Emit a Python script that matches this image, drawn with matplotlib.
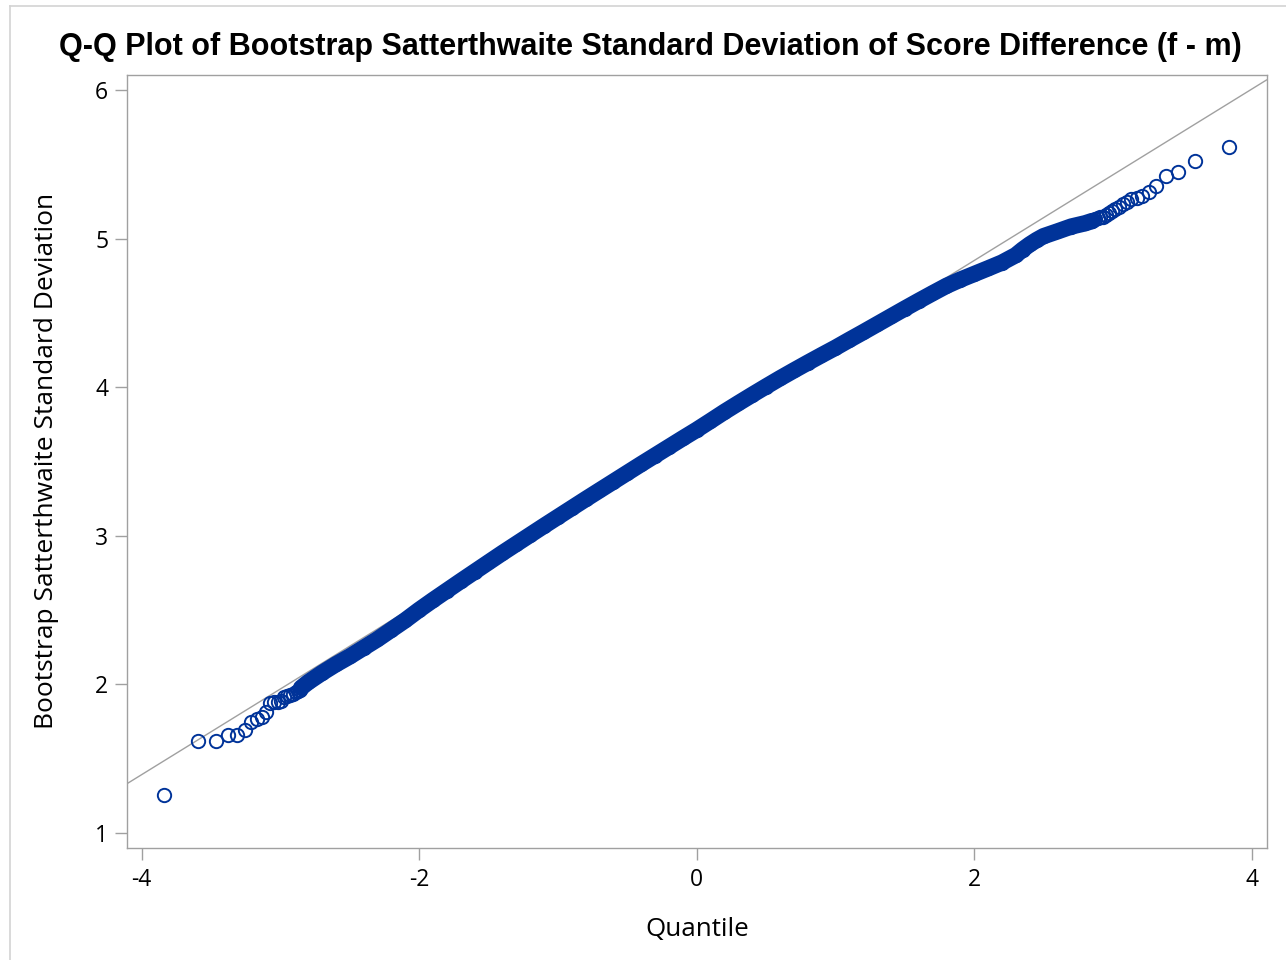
import matplotlib
matplotlib.use("Agg")
import matplotlib.pyplot as plt
from matplotlib.lines import Line2D

# ---------------- data ----------------
# lower tail: normal quantile, bootstrap SD
lower_q = [-3.835, -3.594, -3.466, -3.380, -3.313, -3.258, -3.210, -3.171, -3.134,
           -3.101, -3.071, -3.044, -3.018, -2.994, -2.971, -2.949, -2.929, -2.909,
           -2.890, -2.872, -2.855]
lower_v = [1.254, 1.615, 1.615, 1.656, 1.656, 1.689, 1.743, 1.766, 1.780,
           1.810, 1.874, 1.878, 1.880, 1.885, 1.914, 1.920, 1.928, 1.936,
           1.944, 1.952, 1.960]

# dense central body
body_q = [-2.85, -2.8, -2.7, -2.6, -2.5, -2.4, -2.3, -2.2, -2.1, -2.0,
          -1.9, -1.8, -1.7, -1.6, -1.5, -1.4, -1.3, -1.2, -1.1, -1.0,
          -0.9, -0.8, -0.7, -0.6, -0.5, -0.4, -0.3, -0.2, -0.1, 0.0,
          0.1, 0.2, 0.3, 0.4, 0.5, 0.6, 0.7, 0.8, 0.9, 1.0,
          1.1, 1.2, 1.3, 1.4, 1.5, 1.6, 1.7, 1.8, 1.9, 2.0,
          2.1, 2.2, 2.3, 2.35, 2.4, 2.45, 2.5, 2.6, 2.7, 2.8, 2.85]
body_v = [1.975, 2.012, 2.075, 2.133, 2.186, 2.244, 2.302, 2.366, 2.430, 2.500,
          2.566, 2.630, 2.694, 2.757, 2.820, 2.883, 2.944, 3.005, 3.066, 3.126,
          3.186, 3.246, 3.305, 3.364, 3.423, 3.482, 3.540, 3.598, 3.656, 3.713,
          3.773, 3.834, 3.892, 3.949, 4.005, 4.060, 4.113, 4.165, 4.216, 4.266,
          4.319, 4.371, 4.424, 4.477, 4.530, 4.582, 4.633, 4.683, 4.725, 4.763,
          4.801, 4.840, 4.890, 4.928, 4.962, 4.992, 5.018, 5.050, 5.083, 5.105, 5.120]

# upper tail
upper_q = [2.855, 2.872, 2.890, 2.909, 2.929, 2.949, 2.971, 2.994, 3.018, 3.044,
           3.071, 3.101, 3.134, 3.171, 3.210, 3.258, 3.313, 3.380, 3.466, 3.594, 3.835]
upper_v = [5.130, 5.135, 5.140, 5.145, 5.150, 5.160, 5.175, 5.185, 5.198, 5.216,
           5.232, 5.247, 5.266, 5.277, 5.292, 5.315, 5.355, 5.423, 5.452, 5.522, 5.621]

# reference line (mu + sigma * quantile)
ref_mu = 3.699
ref_sigma = 0.5774

x_ticks = [-4, -2, 0, 2, 4]
y_ticks = [1, 2, 3, 4, 5, 6]

title = "Q-Q Plot of Bootstrap Satterthwaite Standard Deviation of Score Difference (f - m)"
xlabel = "Quantile"
ylabel = "Bootstrap Satterthwaite Standard Deviation"

# ---------------- drawing ----------------
W, H = 1286, 960
BLUE = "#003399"
GRAY = "#A0A0A0"
FONT = ["Open Sans", "DejaVu Sans"]

fig = plt.figure(figsize=(W / 100, H / 100), dpi=100)
fig.patch.set_facecolor("white")

L, R, T, B = 126.7, 1266.5, 75.0, 847.7
ax = fig.add_axes([L / W, 1 - B / H, (R - L) / W, (B - T) / H])
xlim = (-4.107, 4.107)
ax.set_xlim(*xlim)
ax.set_ylim(0.8976, 6.104)

# reference line
ax.plot(list(xlim), [ref_mu + ref_sigma * xlim[0], ref_mu + ref_sigma * xlim[1]],
        color=GRAY, lw=1.0, zorder=2)

# dense body drawn as a thick band through the read points
ax.plot(body_q, body_v, color=BLUE, lw=11.8, solid_capstyle="round",
        solid_joinstyle="round", zorder=3)

# individual markers
all_q = lower_q + body_q + upper_q
all_v = lower_v + body_v + upper_v
ax.plot(all_q, all_v, linestyle="none", marker="o", ms=9.6, mfc="none",
        mec=BLUE, mew=1.4, zorder=4)

for s in ax.spines.values():
    s.set_color(GRAY)
    s.set_linewidth(1.0)

ax.set_xticks(x_ticks)
ax.set_yticks(y_ticks)
ax.set_xticklabels([str(v) for v in x_ticks])
ax.set_yticklabels([str(v) for v in y_ticks])
ax.tick_params(axis="both", direction="out", length=8.3, width=1.0, color=GRAY,
               labelcolor="black", labelsize=16.5)
ax.tick_params(axis="x", pad=6.5)
ax.tick_params(axis="y", pad=5)
for lab in ax.get_xticklabels() + ax.get_yticklabels():
    lab.set_family(FONT)

# texts
fig.text(650 / W, 1 - 47 / H, title, ha="center", va="center",
         fontsize=22, fontweight="bold", family=["Liberation Sans", "DejaVu Sans"])
fig.text(697 / W, 1 - 930 / H, xlabel, ha="center", va="center",
         fontsize=18.7, family=FONT)
fig.text(47 / W, 1 - 461 / H, ylabel, ha="center", va="center", rotation=90,
         fontsize=19, family=FONT)

# outer light border
fig.add_artist(Line2D([10 / W, 10 / W], [0, 1 - 6 / H], transform=fig.transFigure,
                      color="#D3D3D3", lw=1.2))
fig.add_artist(Line2D([10 / W, 1], [1 - 6 / H, 1 - 6 / H], transform=fig.transFigure,
                      color="#D3D3D3", lw=1.2))

fig.savefig("out.png", dpi=100, facecolor="white")
